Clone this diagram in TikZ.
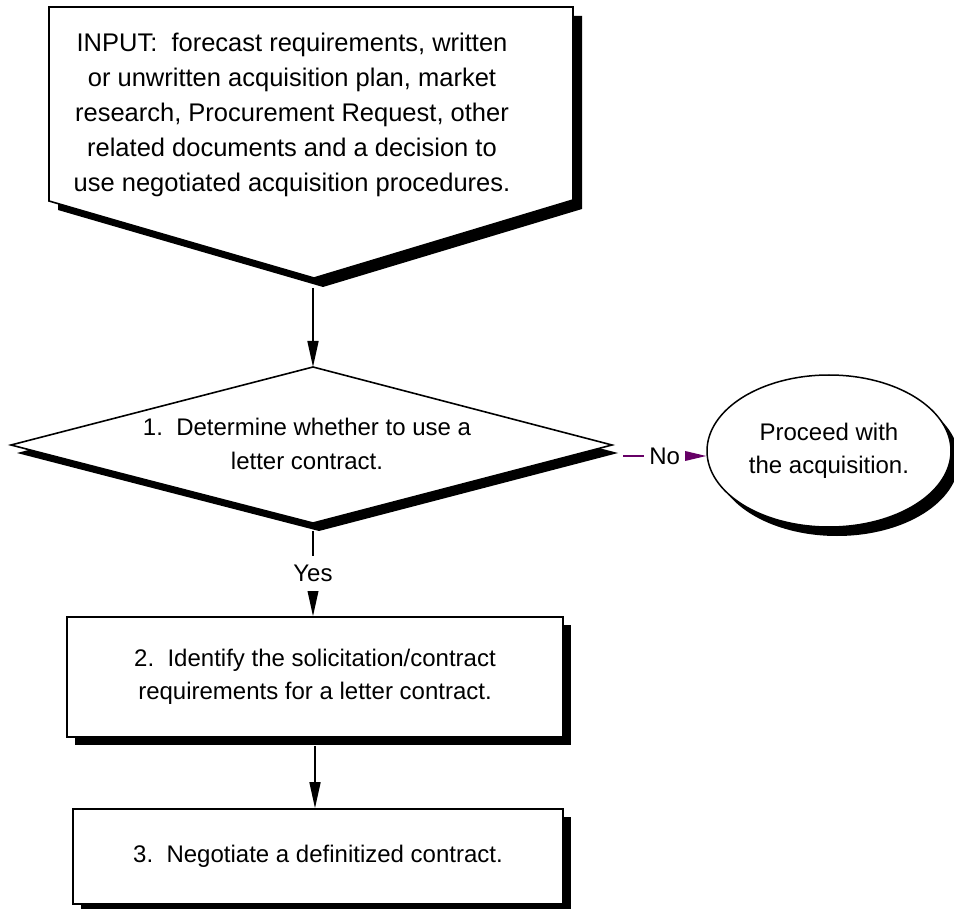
\documentclass[tikz,border=0pt]{standalone}
\usepackage{fontspec}
\setmainfont{Liberation Sans}
\usetikzlibrary{arrows.meta,shapes.geometric}
\definecolor{nopurple}{RGB}{102,0,102}
\begin{document}
\begin{tikzpicture}[x=1pt,y=-1pt,
  txt/.style={font=\fontsize{24}{33.5}\selectfont, align=center},
  outl/.style={draw=black, line width=1.6pt},
  shad/.style={fill=black},
  arr/.style={line width=1.6pt, -{Triangle[length=26pt,width=11pt]}},
  lbl/.style={fill=white, inner xsep=5pt, inner ysep=9pt, font=\fontsize{24}{28}\selectfont}]
\useasboundingbox (0,0) rectangle (954,909);

% input shape
\fill[shad] (58,16) -- (582,16) -- (582,209) -- (323,287) -- (58,210) -- cycle;
\draw[outl, fill=white] (49,7) -- (573,7) -- (573,200) -- (314,278) -- (49,201) -- cycle;
\node[txt, font=\fontsize{25.5}{35}\selectfont] (input) at (292,115)
  {INPUT:\ \ forecast requirements, written\\
   or unwritten acquisition plan, market\\
   research, Procurement Request, other\\
   related documents and a decision to\\
   use negotiated acquisition procedures.};
\coordinate (inTip) at (313,288);

% decision diamond
\fill[shad] (17,453) -- (319,375) -- (618,453) -- (319,531) -- cycle;
\draw[outl, fill=white] (11,445) -- (313,367) -- (612,445) -- (313,523) -- cycle;
\coordinate (dTop) at (313,367);
\coordinate (dBot) at (313,531);
\coordinate (dRight) at (623,456);
\node[txt] (q1) at (307,444) {1.\ \ Determine whether to use a\\letter contract.};

% ellipse
\fill[shad] (837,460) ellipse [x radius=122, y radius=76];
\node[ellipse, draw=black, line width=1.5pt, fill=white, minimum width=244pt,
      minimum height=152pt, inner sep=0pt, txt] (ell) at (829,451)
  {Proceed with\\the acquisition.};

% box 2
\fill[shad] (75,625) rectangle (571,745);
\node[draw=black, line width=1.6pt, fill=white, minimum width=496pt,
      minimum height=120pt, inner sep=0pt, txt] (box2) at (315,677)
  {2.\ \ Identify the solicitation/contract\\requirements for a letter contract.};

% box 3
\fill[shad] (81,817) rectangle (571,912);
\node[draw=black, line width=1.6pt, fill=white, minimum width=490pt,
      minimum height=95pt, inner sep=0pt, txt] (box3) at (318,856.5)
  {3.\ \ Negotiate a definitized contract.};

% connectors
\draw[arr] (inTip) -- (dTop);
\draw[arr] (dBot) -- node[lbl]{Yes} (dBot |- box2.north);
\draw[arr] ([yshift=-8pt]box2.south) -- (box2.south |- box3.north);
\draw[line width=1.5pt, draw=nopurple, -{Triangle[length=22pt,width=10pt]}]
  (dRight) -- node[lbl, text=black]{No} (dRight -| ell.west);
\end{tikzpicture}
\end{document}
